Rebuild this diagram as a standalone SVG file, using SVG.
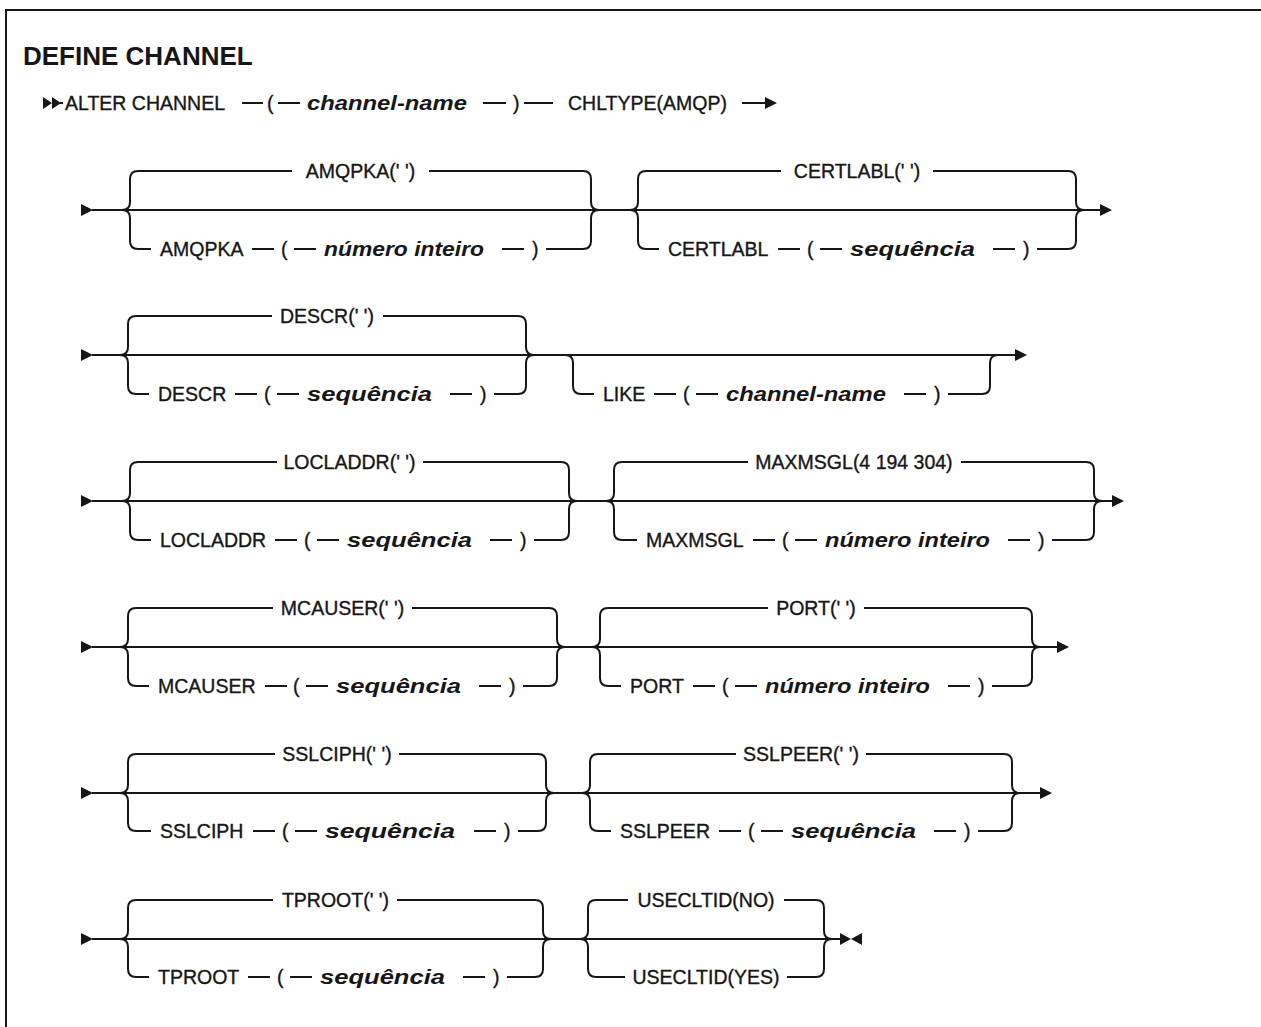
<svg xmlns="http://www.w3.org/2000/svg" width="1261" height="1027" viewBox="0 0 1261 1027">
<style>
.k{font-family:"Liberation Sans",Arial,sans-serif;font-size:19.5px;fill:#161616;stroke:#161616;stroke-width:0.35px}
.v{font-family:"Liberation Sans",Arial,sans-serif;font-size:21px;font-style:italic;font-weight:bold;fill:#161616}
.m{text-anchor:middle}
.ttl{font-family:"Liberation Sans",Arial,sans-serif;font-size:26px;font-weight:bold;fill:#161616}
.l{fill:none;stroke:#161616;stroke-width:2}
.a{fill:#161616;stroke:none}
</style>
<rect width="1261" height="1027" fill="#fff"/>
<path class="l" d="M6,1027 V10 H1261"/>
<g id="title"><text class="ttl" x="23" y="65">DEFINE CHANNEL</text></g>

<g id="connectors">
<!-- row 1 -->
<path class="a" d="M43,97 L52,103 L43,109 Z M52,97 L61,103 L52,109 Z"/>
<path class="l" d="M60,103 H63 M242,103 H263 M278,103 H300 M483,103 H506 M524,103 H553 M742,103 H767"/>
<path class="a" d="M765,97 L777,103 L765,109 Z"/>
<!-- row 2 -->
<path class="a" d="M81,204 L93,210 L81,216 Z"/>
<path class="l" d="M92,210 H1101"/>
<path class="a" d="M1100,204 L1112,210 L1100,216 Z"/>
<path class="l" d="M122,210 Q130,210 130,202 V179 Q130,171 138,171 M122,210 Q130,210 130,218 V241 Q130,249 138,249 M583,171 Q591,171 591,179 V202 Q591,210 599,210 M583,249 Q591,249 591,241 V218 Q591,210 599,210"/>
<path class="l" d="M138,171 H292 M429,171 H583 M138,249 H151 M252,249 H274 M294,249 H316 M502,249 H524 M546,249 H583"/>
<path class="l" d="M630,210 Q638,210 638,202 V179 Q638,171 646,171 M630,210 Q638,210 638,218 V241 Q638,249 646,249 M1068,171 Q1076,171 1076,179 V202 Q1076,210 1084,210 M1068,249 Q1076,249 1076,241 V218 Q1076,210 1084,210"/>
<path class="l" d="M646,171 H781 M933,171 H1068 M646,249 H659 M778,249 H800 M820,249 H842 M993,249 H1015 M1037,249 H1068"/>
<!-- row 3 -->
<path class="a" d="M81,349 L93,355 L81,361 Z"/>
<path class="l" d="M92,355 H1016"/>
<path class="a" d="M1015,349 L1027,355 L1015,361 Z"/>
<path class="l" d="M120,355 Q128,355 128,347 V324 Q128,316 136,316 M120,355 Q128,355 128,363 V386 Q128,394 136,394 M518,316 Q526,316 526,324 V347 Q526,355 534,355 M518,394 Q526,394 526,386 V363 Q526,355 534,355"/>
<path class="l" d="M136,316 H272 M383,316 H518 M136,394 H149 M235,394 H257 M277,394 H299 M450,394 H472 M494,394 H518"/>
<path class="l" d="M565,355 Q573,355 573,363 V386 Q573,394 581,394 M982,394 Q990,394 990,386 V363 Q990,355 998,355"/>
<path class="l" d="M581,394 H594 M654,394 H676 M696,394 H718 M904,394 H926 M948,394 H982"/>
<!-- row 4 -->
<path class="a" d="M81,495 L93,501 L81,507 Z"/>
<path class="l" d="M92,501 H1113"/>
<path class="a" d="M1112,495 L1124,501 L1112,507 Z"/>
<path class="l" d="M122,501 Q130,501 130,493 V470 Q130,462 138,462 M122,501 Q130,501 130,509 V532 Q130,540 138,540 M561,462 Q569,462 569,470 V493 Q569,501 577,501 M561,540 Q569,540 569,532 V509 Q569,501 577,501"/>
<path class="l" d="M138,462 H277 M423,462 H561 M138,540 H151 M275,540 H297 M317,540 H339 M490,540 H512 M534,540 H561"/>
<path class="l" d="M606,501 Q614,501 614,493 V470 Q614,462 622,462 M606,501 Q614,501 614,509 V532 Q614,540 622,540 M1086,462 Q1094,462 1094,470 V493 Q1094,501 1102,501 M1086,540 Q1094,540 1094,532 V509 Q1094,501 1102,501"/>
<path class="l" d="M622,462 H748 M961,462 H1086 M622,540 H637 M753,540 H775 M795,540 H817 M1008,540 H1030 M1052,540 H1086"/>
<!-- row 5 -->
<path class="a" d="M81,641 L93,647 L81,653 Z"/>
<path class="l" d="M92,647 H1058"/>
<path class="a" d="M1057,641 L1069,647 L1057,653 Z"/>
<path class="l" d="M120,647 Q128,647 128,639 V616 Q128,608 136,608 M120,647 Q128,647 128,655 V678 Q128,686 136,686 M549,608 Q557,608 557,616 V639 Q557,647 565,647 M549,686 Q557,686 557,678 V655 Q557,647 565,647"/>
<path class="l" d="M136,608 H273 M412,608 H549 M136,686 H149 M265,686 H287 M306,686 H328 M479,686 H501 M523,686 H549"/>
<path class="l" d="M592,647 Q600,647 600,639 V616 Q600,608 608,608 M592,647 Q600,647 600,655 V678 Q600,686 608,686 M1024,608 Q1032,608 1032,616 V639 Q1032,647 1040,647 M1024,686 Q1032,686 1032,678 V655 Q1032,647 1040,647"/>
<path class="l" d="M608,608 H768 M864,608 H1024 M608,686 H621 M693,686 H715 M735,686 H757 M948,686 H970 M992,686 H1024"/>
<!-- row 6 -->
<path class="a" d="M81,787 L93,793 L81,799 Z"/>
<path class="l" d="M92,793 H1041"/>
<path class="a" d="M1040,787 L1052,793 L1040,799 Z"/>
<path class="l" d="M120,793 Q128,793 128,785 V762 Q128,754 136,754 M120,793 Q128,793 128,801 V823 Q128,831 136,831 M538,754 Q546,754 546,762 V785 Q546,793 554,793 M538,831 Q546,831 546,823 V801 Q546,793 554,793"/>
<path class="l" d="M136,754 H275 M399,754 H538 M136,831 H151 M253,831 H275 M295,831 H317 M474,831 H496 M518,831 H538"/>
<path class="l" d="M582,793 Q590,793 590,785 V762 Q590,754 598,754 M582,793 Q590,793 590,801 V823 Q590,831 598,831 M1004,754 Q1012,754 1012,762 V785 Q1012,793 1020,793 M1004,831 Q1012,831 1012,823 V801 Q1012,793 1020,793"/>
<path class="l" d="M598,754 H736 M866,754 H1004 M598,831 H611 M719,831 H741 M761,831 H783 M934,831 H956 M978,831 H1004"/>
<!-- row 7 -->
<path class="a" d="M81,933 L93,939 L81,945 Z"/>
<path class="l" d="M92,939 H843"/>
<path class="a" d="M840,933 L851,939 L840,945 Z M862,933 L851,939 L862,945 Z"/>
<path class="l" d="M120,939 Q128,939 128,931 V908 Q128,900 136,900 M120,939 Q128,939 128,947 V969 Q128,977 136,977 M535,900 Q543,900 543,908 V931 Q543,939 551,939 M535,977 Q543,977 543,969 V947 Q543,939 551,939"/>
<path class="l" d="M136,900 H273 M397,900 H535 M136,977 H149 M248,977 H270 M290,977 H312 M463,977 H485 M507,977 H535"/>
<path class="l" d="M580,939 Q588,939 588,931 V908 Q588,900 596,900 M580,939 Q588,939 588,947 V969 Q588,977 596,977 M816,900 Q824,900 824,908 V931 Q824,939 832,939 M816,977 Q824,977 824,969 V947 Q824,939 832,939"/>
<path class="l" d="M596,900 H628 M784,900 H816 M596,977 H625 M787,977 H816"/>
</g>

<g id="alter-channel">
<text class="k" x="65" y="110">ALTER CHANNEL</text>
<text class="k" x="267" y="110">(</text>
<text class="v" x="307" y="110" textLength="160" lengthAdjust="spacingAndGlyphs">channel-name</text>
<text class="k" x="513" y="110">)</text>
</g>
<g id="chltype"><text class="k" x="568" y="110">CHLTYPE(AMQP)</text></g>

<g id="amqpka">
<text class="k m" x="360.5" y="178">AMQPKA(' ')</text>
<text class="k" x="160" y="256">AMQPKA</text>
<text class="k" x="281" y="256">(</text>
<text class="v" x="324" y="256" textLength="160" lengthAdjust="spacingAndGlyphs">número inteiro</text>
<text class="k" x="532" y="256">)</text>
</g>
<g id="certlabl">
<text class="k m" x="857" y="178">CERTLABL(' ')</text>
<text class="k" x="668" y="256">CERTLABL</text>
<text class="k" x="807" y="256">(</text>
<text class="v" x="850" y="256" textLength="125" lengthAdjust="spacingAndGlyphs">sequência</text>
<text class="k" x="1023" y="256">)</text>
</g>
<g id="descr">
<text class="k m" x="327" y="323">DESCR(' ')</text>
<text class="k" x="158" y="401">DESCR</text>
<text class="k" x="264" y="401">(</text>
<text class="v" x="307" y="401" textLength="125" lengthAdjust="spacingAndGlyphs">sequência</text>
<text class="k" x="480" y="401">)</text>
</g>
<g id="like">
<text class="k" x="603" y="401">LIKE</text>
<text class="k" x="683" y="401">(</text>
<text class="v" x="726" y="401" textLength="160" lengthAdjust="spacingAndGlyphs">channel-name</text>
<text class="k" x="934" y="401">)</text>
</g>
<g id="locladdr">
<text class="k m" x="349.5" y="469">LOCLADDR(' ')</text>
<text class="k" x="160" y="547">LOCLADDR</text>
<text class="k" x="304" y="547">(</text>
<text class="v" x="347" y="547" textLength="125" lengthAdjust="spacingAndGlyphs">sequência</text>
<text class="k" x="520" y="547">)</text>
</g>
<g id="maxmsgl">
<text class="k m" x="854" y="469">MAXMSGL(4 194 304)</text>
<text class="k" x="646" y="547">MAXMSGL</text>
<text class="k" x="782" y="547">(</text>
<text class="v" x="825" y="547" textLength="165" lengthAdjust="spacingAndGlyphs">número inteiro</text>
<text class="k" x="1038" y="547">)</text>
</g>
<g id="mcauser">
<text class="k m" x="342.5" y="615">MCAUSER(' ')</text>
<text class="k" x="158" y="693">MCAUSER</text>
<text class="k" x="293" y="693">(</text>
<text class="v" x="336" y="693" textLength="125" lengthAdjust="spacingAndGlyphs">sequência</text>
<text class="k" x="509" y="693">)</text>
</g>
<g id="port">
<text class="k m" x="816" y="615">PORT(' ')</text>
<text class="k" x="630" y="693">PORT</text>
<text class="k" x="722" y="693">(</text>
<text class="v" x="765" y="693" textLength="165" lengthAdjust="spacingAndGlyphs">número inteiro</text>
<text class="k" x="978" y="693">)</text>
</g>
<g id="sslciph">
<text class="k m" x="337" y="761">SSLCIPH(' ')</text>
<text class="k" x="160" y="838">SSLCIPH</text>
<text class="k" x="282" y="838">(</text>
<text class="v" x="325" y="838" textLength="130" lengthAdjust="spacingAndGlyphs">sequência</text>
<text class="k" x="504" y="838">)</text>
</g>
<g id="sslpeer">
<text class="k m" x="801" y="761">SSLPEER(' ')</text>
<text class="k" x="620" y="838">SSLPEER</text>
<text class="k" x="748" y="838">(</text>
<text class="v" x="791" y="838" textLength="125" lengthAdjust="spacingAndGlyphs">sequência</text>
<text class="k" x="964" y="838">)</text>
</g>
<g id="tproot">
<text class="k m" x="335.5" y="907">TPROOT(' ')</text>
<text class="k" x="158" y="984">TPROOT</text>
<text class="k" x="277" y="984">(</text>
<text class="v" x="320" y="984" textLength="125" lengthAdjust="spacingAndGlyphs">sequência</text>
<text class="k" x="493" y="984">)</text>
</g>
<g id="usecltid">
<text class="k m" x="706" y="907">USECLTID(NO)</text>
<text class="k m" x="706" y="984">USECLTID(YES)</text>
</g>
</svg>
